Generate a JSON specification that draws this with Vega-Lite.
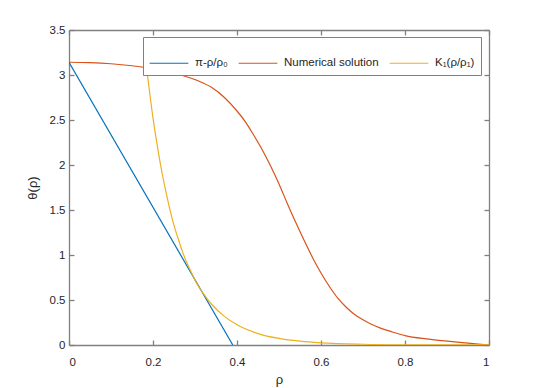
{
  "$schema": "https://vega.github.io/schema/vega-lite/v6.json",
  "width": 420,
  "height": 315,
  "autosize": {"type": "none"},
  "padding": {"left": 69, "top": 30, "right": 52, "bottom": 43},
  "background": "white",
  "config": {
    "view": {"stroke": null},
    "font": "Liberation Sans",
    "axis": {
      "grid": false,
      "domainColor": "#808080",
      "domainWidth": 1.3,
      "tickColor": "#808080",
      "tickWidth": 1.3,
      "tickSize": -5,
      "labelColor": "#262626",
      "labelFontSize": 11.5,
      "labelFont": "Liberation Sans",
      "titleFont": "Liberation Sans",
      "titleFontSize": 13,
      "titleFontWeight": "normal",
      "titleColor": "#262626"
    },
    "legend": {
      "labelFont": "Liberation Sans",
      "labelFontSize": 11.5,
      "labelColor": "#262626"
    }
  },
  "data": {
    "values": [
      {"rho": 0, "theta": 3.1416, "series": "π-ρ/ρ₀"},
      {"rho": 0.39, "theta": 0, "series": "π-ρ/ρ₀"},
      {"rho": 0, "theta": 3.1416, "series": "Numerical solution"},
      {"rho": 0.05, "theta": 3.137, "series": "Numerical solution"},
      {"rho": 0.1, "theta": 3.125, "series": "Numerical solution"},
      {"rho": 0.15, "theta": 3.103, "series": "Numerical solution"},
      {"rho": 0.2, "theta": 3.07, "series": "Numerical solution"},
      {"rho": 0.25, "theta": 3.02, "series": "Numerical solution"},
      {"rho": 0.28, "theta": 2.98, "series": "Numerical solution"},
      {"rho": 0.31, "theta": 2.93, "series": "Numerical solution"},
      {"rho": 0.34, "theta": 2.86, "series": "Numerical solution"},
      {"rho": 0.37, "theta": 2.75, "series": "Numerical solution"},
      {"rho": 0.4, "theta": 2.6, "series": "Numerical solution"},
      {"rho": 0.42, "theta": 2.48, "series": "Numerical solution"},
      {"rho": 0.44, "theta": 2.33, "series": "Numerical solution"},
      {"rho": 0.46, "theta": 2.17, "series": "Numerical solution"},
      {"rho": 0.48, "theta": 1.99, "series": "Numerical solution"},
      {"rho": 0.5, "theta": 1.79, "series": "Numerical solution"},
      {"rho": 0.52, "theta": 1.57, "series": "Numerical solution"},
      {"rho": 0.54, "theta": 1.36, "series": "Numerical solution"},
      {"rho": 0.56, "theta": 1.16, "series": "Numerical solution"},
      {"rho": 0.58, "theta": 0.97, "series": "Numerical solution"},
      {"rho": 0.6, "theta": 0.8, "series": "Numerical solution"},
      {"rho": 0.62, "theta": 0.65, "series": "Numerical solution"},
      {"rho": 0.64, "theta": 0.52, "series": "Numerical solution"},
      {"rho": 0.66, "theta": 0.42, "series": "Numerical solution"},
      {"rho": 0.68, "theta": 0.34, "series": "Numerical solution"},
      {"rho": 0.7, "theta": 0.28, "series": "Numerical solution"},
      {"rho": 0.72, "theta": 0.23, "series": "Numerical solution"},
      {"rho": 0.74, "theta": 0.19, "series": "Numerical solution"},
      {"rho": 0.77, "theta": 0.145, "series": "Numerical solution"},
      {"rho": 0.8, "theta": 0.105, "series": "Numerical solution"},
      {"rho": 0.85, "theta": 0.068, "series": "Numerical solution"},
      {"rho": 0.9, "theta": 0.043, "series": "Numerical solution"},
      {"rho": 0.95, "theta": 0.02, "series": "Numerical solution"},
      {"rho": 1.0, "theta": 0, "series": "Numerical solution"},
      {"rho": 0.185, "theta": 3.07, "series": "K₁(ρ/ρ₁)"},
      {"rho": 0.19, "theta": 2.88, "series": "K₁(ρ/ρ₁)"},
      {"rho": 0.2, "theta": 2.52, "series": "K₁(ρ/ρ₁)"},
      {"rho": 0.21, "theta": 2.22, "series": "K₁(ρ/ρ₁)"},
      {"rho": 0.22, "theta": 1.95, "series": "K₁(ρ/ρ₁)"},
      {"rho": 0.23, "theta": 1.72, "series": "K₁(ρ/ρ₁)"},
      {"rho": 0.24, "theta": 1.51, "series": "K₁(ρ/ρ₁)"},
      {"rho": 0.25, "theta": 1.33, "series": "K₁(ρ/ρ₁)"},
      {"rho": 0.26, "theta": 1.18, "series": "K₁(ρ/ρ₁)"},
      {"rho": 0.27, "theta": 1.04, "series": "K₁(ρ/ρ₁)"},
      {"rho": 0.28, "theta": 0.92, "series": "K₁(ρ/ρ₁)"},
      {"rho": 0.29, "theta": 0.82, "series": "K₁(ρ/ρ₁)"},
      {"rho": 0.3, "theta": 0.72, "series": "K₁(ρ/ρ₁)"},
      {"rho": 0.32, "theta": 0.57, "series": "K₁(ρ/ρ₁)"},
      {"rho": 0.34, "theta": 0.45, "series": "K₁(ρ/ρ₁)"},
      {"rho": 0.37, "theta": 0.318, "series": "K₁(ρ/ρ₁)"},
      {"rho": 0.4, "theta": 0.225, "series": "K₁(ρ/ρ₁)"},
      {"rho": 0.45, "theta": 0.127, "series": "K₁(ρ/ρ₁)"},
      {"rho": 0.5, "theta": 0.073, "series": "K₁(ρ/ρ₁)"},
      {"rho": 0.55, "theta": 0.042, "series": "K₁(ρ/ρ₁)"},
      {"rho": 0.6, "theta": 0.024, "series": "K₁(ρ/ρ₁)"},
      {"rho": 0.7, "theta": 0.0082, "series": "K₁(ρ/ρ₁)"},
      {"rho": 0.8, "theta": 0.0028, "series": "K₁(ρ/ρ₁)"},
      {"rho": 1.0, "theta": 0.0003, "series": "K₁(ρ/ρ₁)"}
    ]
  },
  "resolve": {"axis": {"x": "independent", "y": "independent"}},
  "layer": [
    {
      "mark": {"type": "line", "strokeWidth": 1.2, "clip": true, "interpolate": "monotone"},
      "encoding": {
        "x": {
          "field": "rho", "type": "quantitative",
          "scale": {"domain": [0, 1], "nice": false, "zero": false},
          "axis": {"title": "ρ", "values": [0, 0.2, 0.4, 0.6, 0.8, 1], "format": "~g", "labelPadding": 16, "titlePadding": 6, "orient": "bottom"}
        },
        "y": {
          "field": "theta", "type": "quantitative",
          "scale": {"domain": [0, 3.5], "nice": false, "zero": false},
          "axis": {"title": "θ(ρ)", "values": [0, 0.5, 1, 1.5, 2, 2.5, 3, 3.5], "format": "~g", "labelPadding": 9, "titlePadding": 10, "orient": "left"}
        },
        "color": {
          "field": "series", "type": "nominal",
          "scale": {"domain": ["π-ρ/ρ₀", "Numerical solution", "K₁(ρ/ρ₁)"], "range": ["#0072BD", "#D95319", "#EDB120"]},
          "legend": {
            "title": null,
            "orient": "none",
            "legendX": 74,
            "legendY": 7,
            "direction": "horizontal",
            "columns": 3,
            "symbolType": "stroke",
            "symbolSize": 1500,
            "symbolStrokeWidth": 1.2,
            "labelOffset": 6,
            "columnPadding": 8,
            "padding": 6,
            "fillColor": "white",
            "strokeColor": "#808080"
          }
        }
      }
    },
    {
      "mark": {"type": "point", "opacity": 0},
      "encoding": {
        "x": {
          "field": "rho", "type": "quantitative",
          "scale": {"domain": [0, 1], "nice": false, "zero": false},
          "axis": {"title": null, "labels": false, "values": [0, 0.2, 0.4, 0.6, 0.8, 1], "orient": "top"}
        },
        "y": {
          "field": "theta", "type": "quantitative",
          "scale": {"domain": [0, 3.5], "nice": false, "zero": false},
          "axis": {"title": null, "labels": false, "values": [0, 0.5, 1, 1.5, 2, 2.5, 3, 3.5], "orient": "right"}
        }
      }
    }
  ]
}
